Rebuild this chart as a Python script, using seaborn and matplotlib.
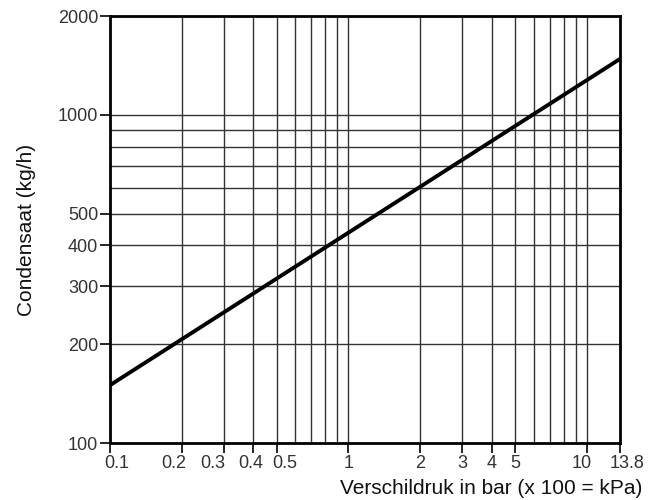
import pandas as pd
import seaborn as sns
import matplotlib.pyplot as plt
from matplotlib.ticker import FixedLocator, FixedFormatter, NullFormatter
from matplotlib.transforms import ScaledTranslation

OUTPUT_IMAGE = 'out.png'

# Line data
druk = [0.1, 13.8]
condensaat = [150, 1480]

# Axis ticks and grid
x_ticks = [0.1, 0.2, 0.3, 0.4, 0.5, 1, 2, 3, 4, 5, 10, 13.8]
x_ticklabels = ['0.1', '0.2', '0.3', '0.4', '0.5', '1', '2', '3', '4', '5', '10', '13.8']
x_grid = [0.2, 0.3, 0.4, 0.5, 0.6, 0.7, 0.8, 0.9, 1, 2, 3, 4, 5, 6, 7, 8, 9, 10]
y_ticks = [100, 200, 300, 400, 500, 1000, 2000]
y_ticklabels = ['100', '200', '300', '400', '500', '1000', '2000']
y_grid = [200, 300, 400, 500, 600, 700, 800, 900, 1000]

# small horizontal nudges (pixels) so the crowded x labels don't touch
label_nudge = {'0.1': 7, '0.2': -8, '0.3': -11, '0.4': -3, '0.5': 8,
               '10': -5, '13.8': 7}


def make_chart():
    sns.set_style('white')
    plt.rcParams['font.family'] = ['Liberation Sans', 'DejaVu Sans']

    df = pd.DataFrame({'druk': druk, 'condensaat': condensaat})

    fig = plt.figure(figsize=(6.57, 5.0), dpi=100)
    ax = fig.add_axes([0.1674, 0.114, 0.9437 - 0.1674, 0.968 - 0.114])

    ax.set_xscale('log')
    ax.set_yscale('log')
    ax.set_xlim(0.1, 13.8)
    ax.set_ylim(100, 2000)

    # grid lines
    for gx in x_grid:
        ax.axvline(gx, color='#333333', lw=1.0, zorder=1)
    for gy in y_grid:
        ax.axhline(gy, color='#333333', lw=1.0, zorder=1)

    sns.lineplot(data=df, x='druk', y='condensaat', color='black',
                 lw=2.8, ax=ax, zorder=3, solid_capstyle='butt')

    ax.xaxis.set_major_locator(FixedLocator(x_ticks))
    ax.xaxis.set_major_formatter(FixedFormatter(x_ticklabels))
    ax.xaxis.set_minor_formatter(NullFormatter())
    ax.yaxis.set_major_locator(FixedLocator(y_ticks))
    ax.yaxis.set_major_formatter(FixedFormatter(y_ticklabels))
    ax.yaxis.set_minor_formatter(NullFormatter())
    ax.minorticks_off()

    ax.tick_params(axis='both', which='major', direction='out', length=7,
                   width=1.2, color='black', labelsize=13, pad=1.5,
                   labelcolor='#333333', bottom=True, left=True)

    fig.canvas.draw()
    for lab, txt in zip(ax.get_xticklabels(), x_ticklabels):
        dx = label_nudge.get(txt, 0)
        if dx:
            lab.set_transform(lab.get_transform() +
                              ScaledTranslation(dx / 100, 0, fig.dpi_scale_trans))

    for s in ax.spines.values():
        s.set_color('black')
        s.set_linewidth(2.0)
        s.set_visible(True)

    ax.set_xlabel('Verschildruk in bar (x 100 = kPa)', fontsize=15, color='#111111')
    ax.xaxis.set_label_coords(1.043, -0.085)
    ax.xaxis.label.set_horizontalalignment('right')
    ax.set_ylabel('Condensaat (kg/h)', fontsize=15, color='#111111')
    ax.yaxis.set_label_coords(-0.145, 0.5)

    fig.savefig(OUTPUT_IMAGE, dpi=100)


if __name__ == "__main__":
    make_chart()
